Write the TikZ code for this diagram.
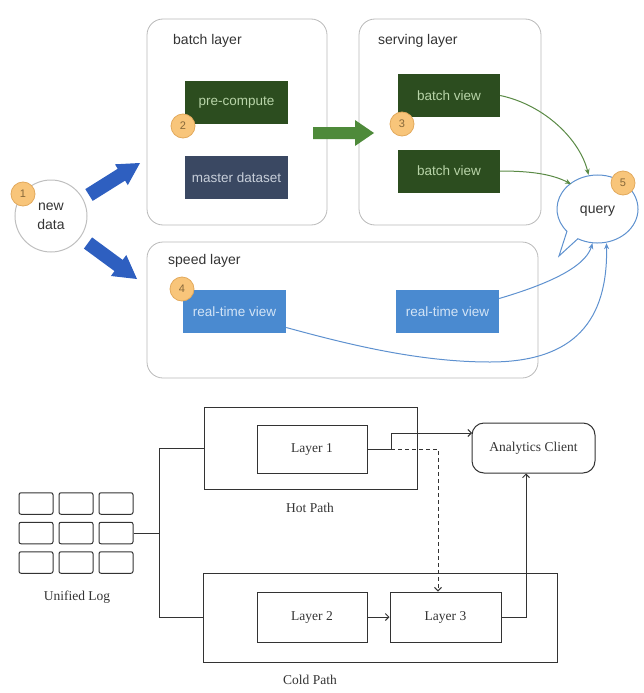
\documentclass[tikz,border=0pt]{standalone}
\usepackage{fontspec}
\setmainfont{Liberation Serif}
\newfontfamily\lambdafont{Liberation Sans}
\usetikzlibrary{arrows.meta}

\definecolor{darkgreen}{HTML}{2C4D1F}
\definecolor{greentext}{HTML}{B8D4A8}
\definecolor{slate}{HTML}{3A4862}
\definecolor{slatetext}{HTML}{C8CFDA}
\definecolor{rtblue}{HTML}{4A8AD0}
\definecolor{rttext}{HTML}{D3E4F6}
\definecolor{badgefill}{HTML}{F8C57A}
\definecolor{badgeedge}{HTML}{E2A95C}
\definecolor{badgetext}{HTML}{86683A}
\definecolor{flowblue}{HTML}{2E5FC0}
\definecolor{flowgreen}{HTML}{4E8A3A}
\definecolor{linkgreen}{HTML}{5A8A45}
\definecolor{linkblue}{HTML}{5E91CF}
\definecolor{ink}{HTML}{333333}

\tikzset{
  layerbox/.style={draw=gray!55, line width=0.8pt, rounded corners=16pt, inner sep=0},
  layertitle/.style={anchor=west, inner sep=0, text=ink, font=\lambdafont\fontsize{14}{16}\selectfont},
  tile/.style={minimum width=103pt, minimum height=43pt, inner sep=0,
    font=\lambdafont\fontsize{13.5}{15}\selectfont},
  badge/.style={circle, draw=badgeedge, line width=0.8pt, fill=badgefill, minimum size=24pt,
    inner sep=0, text=badgetext, font=\lambdafont\fontsize{11}{12}\selectfont},
  greenlink/.style={draw=linkgreen, line width=1pt, -{Stealth[length=6pt,width=5pt]}},
  bluelink/.style={draw=linkblue, line width=1pt, -{Stealth[length=6pt,width=5pt]}},
  plainbox/.style={draw=ink, line width=1pt, inner sep=0},
  serif/.style={font=\fontsize{13.5}{15}\selectfont, text=ink},
  wire/.style={draw=ink, line width=1pt},
  wirearrow/.style={wire, -{Straight Barb[length=3.5pt,width=7pt]}},
  cell/.style={draw=ink, line width=1pt, rounded corners=2pt, minimum width=34pt,
    minimum height=21.5pt, inner sep=0}
}

\begin{document}
\begin{tikzpicture}[x=1pt, y=-1pt]
\useasboundingbox (0,0) rectangle (644,693);

% ---------------- Lambda architecture ----------------
\node[layerbox, minimum width=180pt, minimum height=206pt] (batch) at (237,122) {};
\node[layerbox, minimum width=182pt, minimum height=206pt] (serving) at (450,122) {};
\node[layerbox, minimum width=391pt, minimum height=136pt] (speed) at (342.5,310) {};

\node[layertitle] (batchtitle) at (173,41) {batch layer};
\node[layertitle] (servingtitle) at (378,41) {serving layer};
\node[layertitle] (speedtitle) at (168,261) {speed layer};

\node[tile, fill=darkgreen, text=greentext] (precompute) at (236.5,102.5) {pre-compute};
\node[tile, fill=slate, text=slatetext] (master) at (236.5,177.5) {master dataset};
\node[tile, fill=darkgreen, text=greentext, minimum width=102pt] (bv1) at (449,95.5) {batch view};
\node[tile, fill=darkgreen, text=greentext, minimum width=102pt] (bv2) at (449,171) {batch view};
\node[tile, fill=rtblue, text=rttext] (rt1) at (234.5,311.5) {real-time view};
\node[tile, fill=rtblue, text=rttext] (rt2) at (447.5,311.5) {real-time view};

% incoming data
\node[circle, draw=gray!50, line width=1pt, minimum size=72pt, inner sep=0, align=center,
  text=ink, font=\lambdafont\fontsize{14}{19}\selectfont] (newdata) at (51,216) {new\\data};

% wide flow arrows
\fill[flowblue] (92.7,200.9) -- (85.3,189.1) -- (117.7,168.8) -- (115,164.3) -- (140,163)
  -- (127.8,185.1) -- (125.1,180.6) -- cycle;
\fill[flowblue] (83.9,248.6) -- (92.1,237.4) -- (122.7,259.9) -- (126.3,255.0) -- (137,279)
  -- (110.9,276.0) -- (114.5,271.1) -- cycle;
\fill[flowgreen] (313,127) -- (355,127) -- (355,120) -- (374,133) -- (355,146) -- (355,139)
  -- (313,139) -- cycle;

% query bubble
\coordinate (qc) at (597.5,209);
\node[inner sep=0, minimum width=81pt, minimum height=68pt] (query) at (qc) {};
\draw[linkblue, line width=1pt, fill=white] (qc) ++(119:40.5 and 34)
  arc[start angle=119, end angle=-221, x radius=40.5, y radius=34] -- (559,256) -- cycle;
\node[text=ink, font=\lambdafont\fontsize{14}{16}\selectfont] (querytext) at (597.5,211) {query};

% views feeding the query
\draw[greenlink] (bv1.east) .. controls (545,105) and (580,140) .. ([xshift=-9pt]query.north);
\draw[greenlink] (bv2.east) .. controls (530,171) and (552,174) .. (571,184);
\draw[bluelink] ([yshift=13pt]rt2.east) .. controls (545,285) and (585,268) .. ([xshift=-5pt]query.south);
\draw[bluelink] ([yshift=-16pt]rt1.east) .. controls (350,345) and (420,362) .. (490,362)
  .. controls (575,362) and (608,320) .. ([xshift=9pt]query.south);

% step badges
\node[badge] (b1) at (23,194) {1};
\node[badge] (b2) at (183,126) {2};
\node[badge] (b3) at (402,124) {3};
\node[badge] (b4) at (182,289) {4};
\node[badge] (b5) at (623,183) {5};

% ---------------- Hot / cold paths ----------------
\node[plainbox, minimum width=213pt, minimum height=82pt] (hot) at (310.5,448) {};
\node[plainbox, minimum width=110pt, minimum height=48pt, serif] (layer1) at (312,449) {Layer 1};
\node[serif] (hotlabel) at (310,508) {Hot Path};

\node[plainbox, rounded corners=12pt, minimum width=123pt, minimum height=50pt, serif]
  (client) at (533.5,448) {Analytics Client};

\node[plainbox, minimum width=354pt, minimum height=89pt] (cold) at (380,617.5) {};
\node[plainbox, minimum width=110pt, minimum height=50pt, serif] (layer2) at (312,617) {Layer 2};
\node[plainbox, minimum width=111pt, minimum height=50pt, serif] (layer3) at (445.5,617) {Layer 3};
\node[serif] (coldlabel) at (310,680) {Cold Path};

% unified log tiles
\foreach \c/\x in {1/36,2/76,3/116}{
  \foreach \r/\y in {1/503.5,2/533,3/562.5}{
    \node[cell] (g\r\c) at (\x,\y) {};
  }
}
\node[serif] (loglabel) at (77,597) {Unified Log};

% wiring
\draw[wire] (g23.east) -- ++(26,0) coordinate (split);
\draw[wire] (hot.west) -| (split) |- (cold.west);

\coordinate (fork) at (391,449);
\coordinate (clientin) at (472,433);
\draw[wire] (layer1.east) -- (fork);
\draw[wirearrow] (fork) |- (clientin);
\draw[wirearrow, dashed, dash pattern=on 4pt off 3pt] (fork) -| ([xshift=-7.5pt]layer3.north);
\draw[wirearrow] (layer2.east) -- (layer3.west);
\draw[wirearrow] (layer3.east) -| ([xshift=-7.5pt]client.south);

\end{tikzpicture}
\end{document}
